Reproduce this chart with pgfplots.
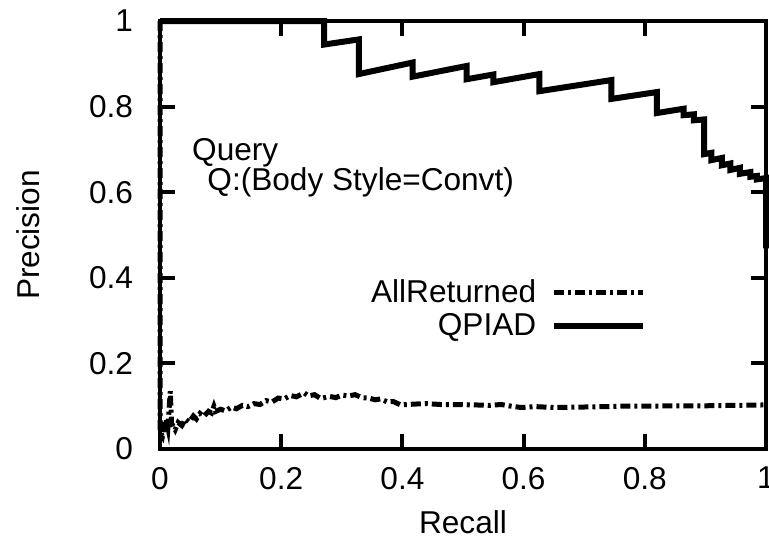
\documentclass[border=0pt]{standalone}
\usepackage{pgfplots}
\pgfplotsset{compat=1.18}
\usepackage{fontspec}
\setmainfont{Liberation Sans}
\begin{document}
\begin{tikzpicture}[font=\fontsize{15.8}{19}\selectfont]
\useasboundingbox (-80pt,-44.5pt) rectangle (304.5pt,224.5pt);
\begin{axis}[
  at={(0,0)}, anchor=south west,
  scale only axis, width=303pt, height=214pt,
  xmin=0, xmax=1, ymin=0, ymax=1,
  xtick={0,0.2,0.4,0.6,0.8,1}, ytick={0,0.2,0.4,0.6,0.8,1},
  tick align=inside, major tick length=7.5pt,
  every tick/.style={black, line width=2pt},
  axis line style={line width=2pt},
  /pgf/number format/assume math mode=true,
  tick label style={font=\fontsize{15.8}{19}\selectfont},
  xticklabel style={yshift=-5.5pt},
  yticklabel style={xshift=-10pt},
  xlabel={Recall}, ylabel={Precision},
  label style={font=\fontsize{15.8}{19}\selectfont},
  x label style={at={(axis description cs:0.5,0)}, anchor=center, yshift=-36.5pt},
  y label style={at={(axis description cs:-0.2178,0.5)}, anchor=center},
  clip=false,
  legend plot pos=right,
  legend cell align=right,
  legend image code/.code={\draw[#1] (0pt,0pt) -- (44.5pt,0pt);},
  legend style={at={(axis cs:0.803,0.407)}, anchor=north east, draw=none, fill=none,
    inner sep=0pt, row sep=0pt, column sep=5.5pt, font=\fontsize{15.8}{19}\selectfont},
]
\addplot[black, line width=2.5pt, dash pattern=on 5pt off 2pt on 1.5pt off 2pt] coordinates {
(0,1) (0,0.04) (0.004,0.03) (0.006,0.046) (0.010,0.07) (0.013,0.05) (0.017,0.135)
(0.019,0.06) (0.025,0.045) (0.030,0.062) (0.036,0.055) (0.042,0.070) (0.048,0.063)
(0.055,0.077) (0.060,0.070) (0.066,0.083) (0.072,0.076) (0.080,0.088) (0.085,0.084)
(0.089,0.100) (0.092,0.088) (0.100,0.093) (0.108,0.089) (0.118,0.098) (0.126,0.094)
(0.136,0.102) (0.145,0.099) (0.155,0.106) (0.165,0.104) (0.175,0.113) (0.185,0.110)
(0.195,0.119) (0.205,0.117) (0.215,0.125) (0.225,0.122) (0.238,0.131) (0.245,0.124)
(0.255,0.127) (0.265,0.118) (0.28,0.123) (0.290,0.120) (0.300,0.126) (0.311,0.124)
(0.322,0.127) (0.333,0.120) (0.345,0.119) (0.355,0.115) (0.364,0.117) (0.375,0.110)
(0.385,0.111) (0.397,0.103) (0.42,0.105) (0.44,0.106) (0.463,0.104) (0.49,0.104)
(0.52,0.103) (0.545,0.102) (0.563,0.104) (0.58,0.100) (0.596,0.097) (0.62,0.099)
(0.65,0.097) (0.695,0.098) (0.73,0.099) (0.762,0.100) (0.80,0.100) (0.85,0.101)
(0.90,0.101) (0.95,0.102) (1.0,0.103)
};
\addlegendentry{AllReturned}
\addplot[black, line width=3pt, line join=miter] coordinates {
(0,1) (0.271,1) (0.271,0.945) (0.328,0.957) (0.328,0.876) (0.417,0.903)
(0.417,0.870) (0.506,0.895) (0.506,0.864) (0.550,0.875) (0.550,0.857)
(0.626,0.876) (0.626,0.836) (0.745,0.862) (0.745,0.818) (0.820,0.834)
(0.820,0.785) (0.864,0.795) (0.864,0.780) (0.881,0.782) (0.881,0.768)
(0.898,0.770) (0.898,0.689) (0.910,0.692) (0.910,0.675) (0.927,0.680)
(0.927,0.663) (0.941,0.667) (0.941,0.652) (0.957,0.657) (0.957,0.643)
(0.974,0.647) (0.974,0.636) (0.985,0.638) (0.985,0.630) (1.0,0.633) (1.0,0.469)
};
\addlegendentry{QPIAD}
\node[anchor=base west, inner sep=0pt] at (axis cs:0.0525,0.675) {Query};
\node[anchor=base west, inner sep=0pt] at (axis cs:0.0776,0.605) {Q:(Body Style=Convt)};
\end{axis}
\end{tikzpicture}
\end{document}
